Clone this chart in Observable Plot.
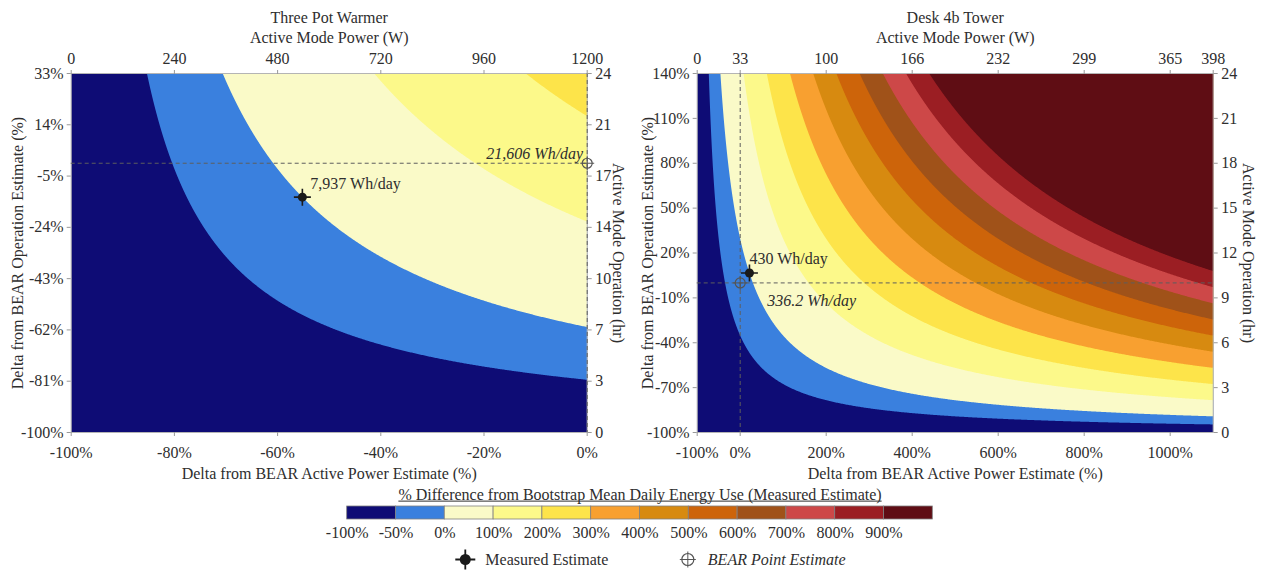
<!DOCTYPE html>
<html><head><meta charset="utf-8">
<script src="https://cdn.jsdelivr.net/npm/d3@7"></script>
<script src="https://cdn.jsdelivr.net/npm/@observablehq/plot@0.6"></script>
<style>
body{margin:0;background:#fff;}
#wrap{position:relative;width:1264px;height:571px;overflow:hidden;font-family:"Liberation Serif",serif;}
#wrap > div{position:absolute;}
</style></head><body>
<div id="wrap"><div id="p1" style="left:0;top:0"></div><div id="p2" style="left:640px;top:0"></div><div id="leg" style="left:0;top:480px"></div></div>
<script>
// ---------- shared legend / contour levels ----------
const levelStarts = [-100, -50, 0, 100, 200, 300, 400, 500, 600, 700, 800, 900];
const levelBreaks = [-50, 0, 100, 200, 300, 400, 500, 600, 700, 800, 900];
const levelLabels = ["-100%", "-50%", "0%", "100%", "200%", "300%", "400%", "500%", "600%", "700%", "800%", "900%"];
const levelColors = ["#0e0c75", "#3a80de", "#fafac8", "#fcf98a", "#fde44a", "#f8a030", "#d78a10", "#cd640a", "#a05219", "#cd4848", "#9b1e23", "#5f0d14"];
const legendTitle = "% Difference from Bootstrap Mean Daily Energy Use (Measured Estimate)";
const legendItems = ["Measured Estimate", "BEAR Point Estimate"];

// ---------- left panel: Three Pot Warmer ----------
const potTitle = "Three Pot Warmer";
const potXDomain = [-100, 0];
const potYDomain = [-100, 33.333];
const potXTicks = [-100, -80, -60, -40, -20, 0];
const potXLabels = ["-100%", "-80%", "-60%", "-40%", "-20%", "0%"];
const potPowerLabels = ["0", "240", "480", "720", "960", "1200"];
const potYTicks = [-100, -80.95, -61.9, -42.86, -23.81, -4.76, 14.29, 33.33];
const potYLabels = ["-100%", "-81%", "-62%", "-43%", "-24%", "-5%", "14%", "33%"];
const potHourLabels = ["0", "3", "7", "10", "14", "17", "21", "24"];
const potMeasured = {x: -55.2, y: -12.6, label: "7,937 Wh/day"};
const potBear = {x: 0, y: 0, label: "21,606 Wh/day"};

// ---------- right panel: Desk 4b Tower ----------
const deskTitle = "Desk 4b Tower";
const deskXDomain = [-100, 1100];
const deskYDomain = [-100, 140];
const deskXTicks = [-100, 0, 200, 400, 600, 800, 1000];
const deskXLabels = ["-100%", "0%", "200%", "400%", "600%", "800%", "1000%"];
const deskPowerTicks = [-100, 0, 200, 400, 600, 800, 1000, 1100];
const deskPowerLabels = ["0", "33", "100", "166", "232", "299", "365", "398"];
const deskYTicks = [-100, -70, -40, -10, 20, 50, 80, 110, 140];
const deskYLabels = ["-100%", "-70%", "-40%", "-10%", "20%", "50%", "80%", "110%", "140%"];
const deskHourLabels = ["0", "3", "6", "9", "12", "15", "18", "21", "24"];
const deskMeasured = {x: 21.5, y: 6.6, label: "430 Wh/day"};
const deskBear = {x: 0, y: 0, label: "336.2 Wh/day"};

const FONT = "'Liberation Serif', 'Times New Roman', serif";
const TEXT = "#2e2e2e";
const TICK = "#999";
const DASH = "#5e5e5e";

const crossSymbol = {draw(ctx, size) {
  const r = Math.sqrt(size / Math.PI);
  ctx.moveTo(-r, 0); ctx.lineTo(r, 0); ctx.moveTo(0, -r); ctx.lineTo(0, r);
}};

const fmt = (ticks, labels) => { const m = new Map(ticks.map((t, i) => [t, labels[i]])); return d => m.get(d); };

function panel(c) {
  // contour value: % difference of active energy (power x hours) from the measured estimate
  const ref = (1 + c.measured.x / 100) * (1 + c.measured.y / 100);
  const pct = (x, y) => ((1 + x / 100) * (1 + y / 100) / ref - 1) * 100;
  const axisBase = {tickSize: 4, stroke: TICK, fill: TEXT, label: null, fontSize: 16};
  const label = {text: d => d, fill: TEXT, lineAnchor: "middle", textAnchor: "middle"};
  return Plot.plot({
    width: c.width, height: 480,
    marginLeft: c.ml, marginRight: c.mr, marginTop: 73, marginBottom: 48,
    style: {fontFamily: FONT, fontSize: "16px", color: TEXT, background: "transparent", overflow: "visible"},
    x: {domain: c.xDomain, axis: null},
    y: {domain: c.yDomain, axis: null},
    color: {type: "threshold", domain: levelBreaks, range: levelColors},
    marks: [
      Plot.frame({fill: levelColors[0], stroke: null}),
      Plot.contour({x1: c.xDomain[0], x2: c.xDomain[1], y1: c.yDomain[0], y2: c.yDomain[1],
        fill: pct, thresholds: levelBreaks, pixelSize: 1}),
      Plot.frame({stroke: "#b4b4b4"}),
      Plot.ruleY([c.bear.y], {stroke: DASH, strokeDasharray: "4,3"}),
      Plot.ruleX([c.bear.x], {stroke: DASH, strokeDasharray: "4,3"}),
      Plot.axisX(c.xTicks, {...axisBase, anchor: "bottom", tickPadding: 10, tickFormat: fmt(c.xTicks, c.xLabels)}),
      Plot.axisX(c.powerTicks, {...axisBase, anchor: "top", tickPadding: 6, tickFormat: fmt(c.powerTicks, c.powerLabels)}),
      Plot.axisY(c.yTicks, {...axisBase, anchor: "left", tickPadding: 3.5, tickFormat: fmt(c.yTicks, c.yLabels)}),
      Plot.axisY(c.yTicks, {...axisBase, anchor: "right", tickPadding: 4, tickFormat: fmt(c.yTicks, c.hourLabels)}),
      Plot.text([c.title], {...label, frameAnchor: "top", dy: -56}),
      Plot.text(["Active Mode Power (W)"], {...label, frameAnchor: "top", dy: -36}),
      Plot.text(["Delta from BEAR Active Power Estimate (%)"], {...label, frameAnchor: "bottom", dy: 41}),
      Plot.text(["Delta from BEAR Operation Estimate (%)"], {...label, frameAnchor: "left", dx: c.leftLabelDx, rotate: -90}),
      Plot.text(["Active Mode Operation (hr)"], {...label, frameAnchor: "right", dx: c.rightLabelDx, rotate: 90}),
      // BEAR point estimate
      Plot.dot([c.bear], {x: "x", y: "y", r: 5, fill: "none", stroke: "#555", strokeWidth: 1.2}),
      Plot.dot([c.bear], {x: "x", y: "y", r: 7, symbol: crossSymbol, stroke: "#555", strokeWidth: 1}),
      Plot.text([c.bear], {x: "x", y: "y", text: "label", dx: c.bearDx, dy: c.bearDy, textAnchor: c.bearAnchor, fontStyle: "italic", fill: TEXT}),
      // measured estimate
      Plot.dot([c.measured], {x: "x", y: "y", r: 8.5, symbol: crossSymbol, stroke: "#1a1a1a", strokeWidth: 1.6}),
      Plot.dot([c.measured], {x: "x", y: "y", r: 4.5, fill: "#1a1a1a"}),
      Plot.text([c.measured], {x: "x", y: "y", text: "label", dx: c.measDx, dy: c.measDy, textAnchor: "start", fill: TEXT})
    ]
  });
}

document.getElementById("p1").append(panel({
  width: 640, ml: 70.7, mr: 53.3, title: potTitle,
  xDomain: potXDomain, yDomain: potYDomain,
  xTicks: potXTicks, xLabels: potXLabels, powerTicks: potXTicks, powerLabels: potPowerLabels,
  yTicks: potYTicks, yLabels: potYLabels, hourLabels: potHourLabels,
  measured: potMeasured, bear: potBear,
  leftLabelDx: -53, rightLabelDx: 31,
  bearDx: -4, bearDy: -9, bearAnchor: "end", measDx: 8, measDy: -13
}));

document.getElementById("p2").append(panel({
  width: 624, ml: 56.7, mr: 51.3, title: deskTitle,
  xDomain: deskXDomain, yDomain: deskYDomain,
  xTicks: deskXTicks, xLabels: deskXLabels, powerTicks: deskPowerTicks, powerLabels: deskPowerLabels,
  yTicks: deskYTicks, yLabels: deskYLabels, hourLabels: deskHourLabels,
  measured: deskMeasured, bear: deskBear,
  leftLabelDx: -49, rightLabelDx: 35,
  bearDx: 27, bearDy: 18, bearAnchor: "start", measDx: 0, measDy: -14
}));

const legend = Plot.plot({
  width: 1264, height: 91, marginLeft: 346.7, marginRight: 331.7, marginTop: 26, marginBottom: 52,
  style: {fontFamily: FONT, fontSize: "16px", color: TEXT, background: "transparent", overflow: "visible"},
  x: {domain: [0, 12], axis: null},
  color: {type: "threshold", domain: levelBreaks, range: levelColors},
  marks: [
    Plot.rect(levelStarts, {x1: (d, i) => i, x2: (d, i) => i + 1, fill: d => d, stroke: "#808080", strokeWidth: 0.8}),
    Plot.text(levelLabels, {x: (d, i) => i, frameAnchor: "bottom", lineAnchor: "middle", dy: 13, text: d => d, fill: TEXT}),
    Plot.text([legendTitle], {x: 6, frameAnchor: "top", lineAnchor: "middle", dy: -12, text: d => d, fill: TEXT}),
    Plot.dot([legendItems[0]], {x: 2.42, r: 10, dy: 46.5, symbol: crossSymbol, stroke: "#1a1a1a", strokeWidth: 1.8}),
    Plot.dot([legendItems[0]], {x: 2.42, r: 5.5, dy: 46.5, fill: "#1a1a1a"}),
    Plot.text([legendItems[0]], {x: 2.83, dy: 46.5, text: d => d, textAnchor: "start", fill: TEXT}),
    Plot.dot([legendItems[1]], {x: 6.98, r: 6, dy: 46.5, fill: "none", stroke: "#555", strokeWidth: 1.2}),
    Plot.dot([legendItems[1]], {x: 6.98, r: 8, dy: 46.5, symbol: crossSymbol, stroke: "#555", strokeWidth: 1}),
    Plot.text([legendItems[1]], {x: 7.39, dy: 46.5, text: d => d, textAnchor: "start", fontStyle: "italic", fill: TEXT})
  ]
});
document.getElementById("leg").append(legend);
// underline the legend title
d3.select(legend).selectAll("text").filter(function() { return this.textContent === legendTitle; })
  .each(function() {
    const bb = this.getBBox();
    const line = document.createElementNS("http://www.w3.org/2000/svg", "line");
    line.setAttribute("x1", bb.x); line.setAttribute("x2", bb.x + bb.width);
    line.setAttribute("y1", bb.y + bb.height - 2.5); line.setAttribute("y2", bb.y + bb.height - 2.5);
    line.setAttribute("stroke", TEXT); line.setAttribute("stroke-width", 1);
    const t = this.getAttribute("transform"); if (t) line.setAttribute("transform", t);
    this.parentNode.appendChild(line);
  });
</script>
</body></html>
